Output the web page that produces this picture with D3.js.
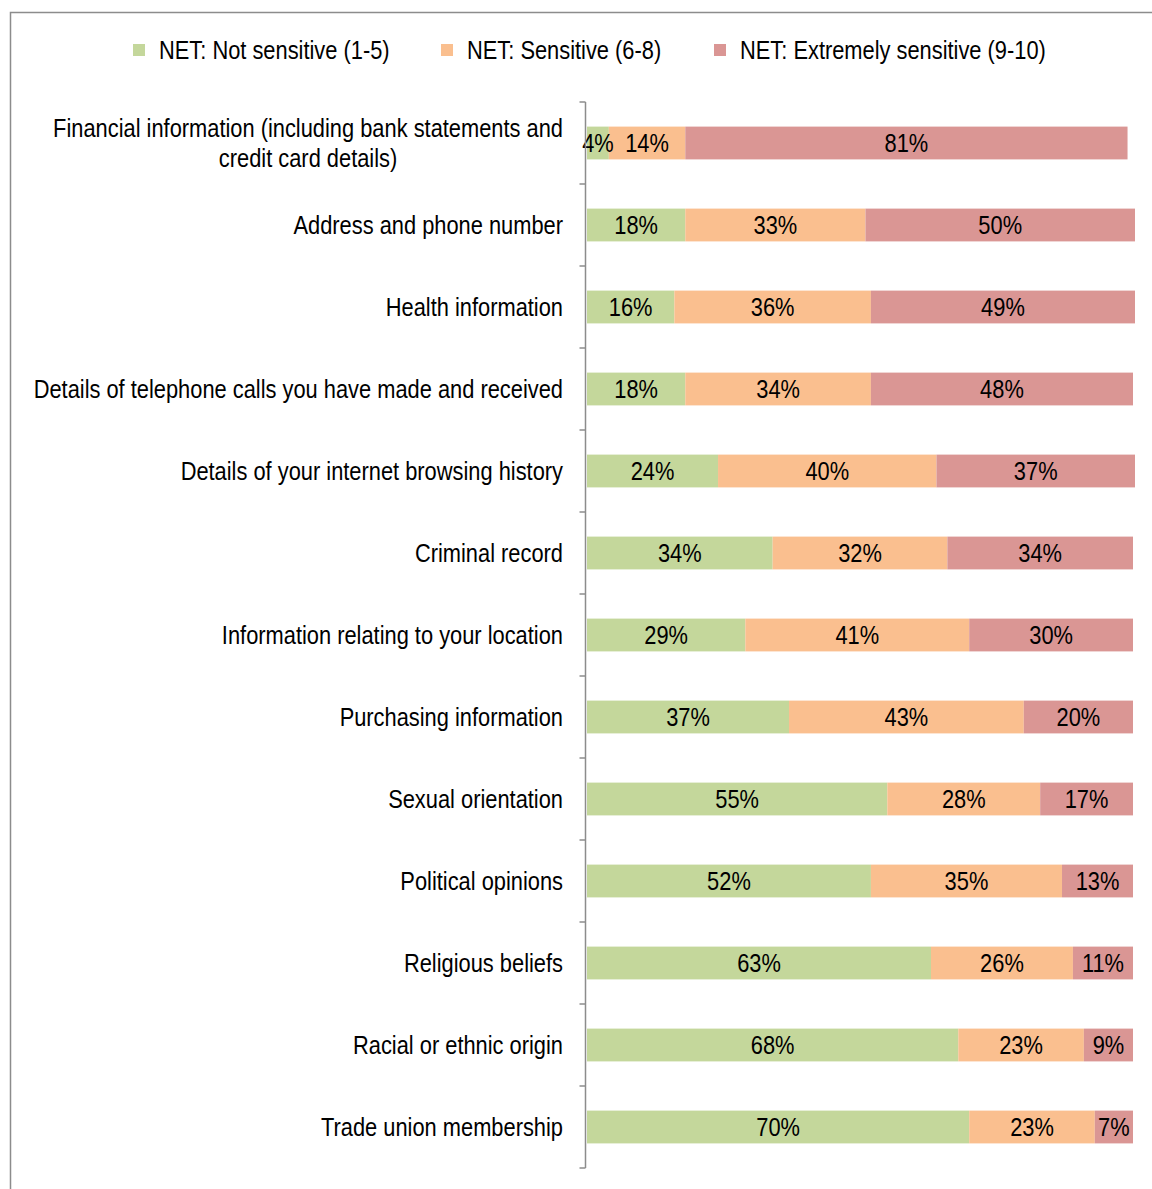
<!DOCTYPE html>
<html>
<head>
<meta charset="utf-8">
<script src="https://cdn.jsdelivr.net/npm/d3@7"></script>
<style>
  html, body { margin: 0; padding: 0; background: #fff; }
  svg { display: block; }
  text { font-family: "Liberation Sans", Arial, sans-serif; fill: #000; }
</style>
</head>
<body>
<svg id="chart" width="1152" height="1189"></svg>
<script>
// Survey items, top to bottom
const categories = [
  "Financial information (including bank statements and\ncredit card details)",
  "Address and phone number",
  "Health information",
  "Details of telephone calls you have made and received",
  "Details of your internet browsing history",
  "Criminal record",
  "Information relating to your location",
  "Purchasing information",
  "Sexual orientation",
  "Political opinions",
  "Religious beliefs",
  "Racial or ethnic origin",
  "Trade union membership"
];

const seriesNames = [
  "NET: Not sensitive (1-5)",
  "NET: Sensitive (6-8)",
  "NET: Extremely sensitive (9-10)"
];

const notSensitive       = [4, 18, 16, 18, 24, 34, 29, 37, 55, 52, 63, 68, 70];
const sensitive          = [14, 33, 36, 34, 40, 32, 41, 43, 28, 35, 26, 23, 23];
const extremelySensitive = [81, 50, 49, 48, 37, 34, 30, 20, 17, 13, 11, 9, 7];

const colors = ["#C4D79B", "#FABF8F", "#DA9694"];

const FONT_SIZE = 26;
// narrow sans look: squeeze regular sans text horizontally
const NARROW = 0.84;
function narrow(sel) {
  sel.each(function () {
    const w = this.getComputedTextLength();
    d3.select(this).attr("textLength", w * NARROW).attr("lengthAdjust", "spacingAndGlyphs");
  });
  return sel;
}
function narrowWidth(node) { return node.getComputedTextLength() * NARROW; }

const svg = d3.select("#chart");

// outer frame
svg.append("rect")
  .attr("x", 10.5).attr("y", 12.5)
  .attr("width", 1160).attr("height", 1200)
  .attr("fill", "none").attr("stroke", "#8c8c8c").attr("stroke-width", 1.5);

const plot = { left: 587, right: 1133, top: 102, bottom: 1168, clipRight: 1135 };

svg.append("defs").append("clipPath").attr("id", "plot-clip")
  .append("rect")
  .attr("x", plot.left).attr("y", plot.top)
  .attr("width", plot.clipRight - plot.left).attr("height", plot.bottom - plot.top);

const rows = categories.map((c, i) => ({
  category: c,
  [seriesNames[0]]: notSensitive[i],
  [seriesNames[1]]: sensitive[i],
  [seriesNames[2]]: extremelySensitive[i]
}));

const stacked = d3.stack().keys(seriesNames)(rows);

const x = d3.scaleLinear().domain([0, 100]).range([plot.left, plot.right]);
const y = d3.scaleBand().domain(categories).range([plot.top, plot.bottom]).paddingInner(0.6).paddingOuter(0.3);

// bars
const layers = svg.append("g").attr("clip-path", "url(#plot-clip)").selectAll("g")
  .data(stacked).join("g")
  .attr("fill", (d, i) => colors[i]);

layers.selectAll("rect")
  .data(d => d.map(p => ({ p, key: d.key })))
  .join("rect")
  .attr("x", d => x(d.p[0]))
  .attr("y", d => y(d.p.data.category))
  .attr("width", d => x(d.p[1]) - x(d.p[0]))
  .attr("height", y.bandwidth());

// value labels
const valueLabels = svg.append("g").selectAll("text")
  .data(stacked.flatMap(layer => layer.map(p => p)))
  .join("text")
  .attr("x", p => (x(p[0]) + Math.min(x(p[1]), plot.clipRight)) / 2)
  .attr("y", p => y(p.data.category) + y.bandwidth() / 2)
  .attr("dy", "0.36em")
  .attr("text-anchor", "middle")
  .attr("font-size", FONT_SIZE)
  .text(p => (p[1] - p[0]) + "%");
narrow(valueLabels);

// category axis with ticks between categories
const axisX = 585.5;
const axisG = svg.append("g").attr("stroke", "#8c8c8c").attr("stroke-width", 1.5);
axisG.append("line")
  .attr("x1", axisX).attr("x2", axisX)
  .attr("y1", plot.top).attr("y2", plot.bottom);
d3.range(categories.length + 1).forEach(i => {
  const ty = plot.top + i * (plot.bottom - plot.top) / categories.length;
  axisG.append("line")
    .attr("x1", axisX - 6).attr("x2", axisX)
    .attr("y1", ty).attr("y2", ty);
});

// category labels
const labelRight = 563;
const lineH = 30;
categories.forEach(c => {
  const lines = c.split("\n");
  const cy = y(c) + y.bandwidth() / 2;
  const g = svg.append("g");
  const texts = lines.map((ln, j) => g.append("text")
    .attr("font-size", FONT_SIZE)
    .attr("y", cy + (j - (lines.length - 1) / 2) * lineH)
    .attr("dy", "0.36em")
    .text(ln));
  const widths = texts.map(t => narrowWidth(t.node()));
  texts.forEach(t => narrow(t));
  if (lines.length === 1) {
    texts[0].attr("x", labelRight).attr("text-anchor", "end");
  } else {
    const maxW = d3.max(widths);
    texts.forEach(t => t.attr("x", labelRight - maxW / 2).attr("text-anchor", "middle"));
  }
});

// legend
const legendItems = [
  { x: 133, name: seriesNames[0], color: colors[0] },
  { x: 441, name: seriesNames[1], color: colors[1] },
  { x: 714, name: seriesNames[2], color: colors[2] }
];
const legend = svg.append("g");
legendItems.forEach(it => {
  legend.append("rect")
    .attr("x", it.x).attr("y", 44).attr("width", 12).attr("height", 12)
    .attr("fill", it.color);
  const t = legend.append("text")
    .attr("x", it.x + 26).attr("y", 50)
    .attr("dy", "0.36em")
    .attr("font-size", FONT_SIZE)
    .text(it.name);
  narrow(t);
});
</script>
</body>
</html>
